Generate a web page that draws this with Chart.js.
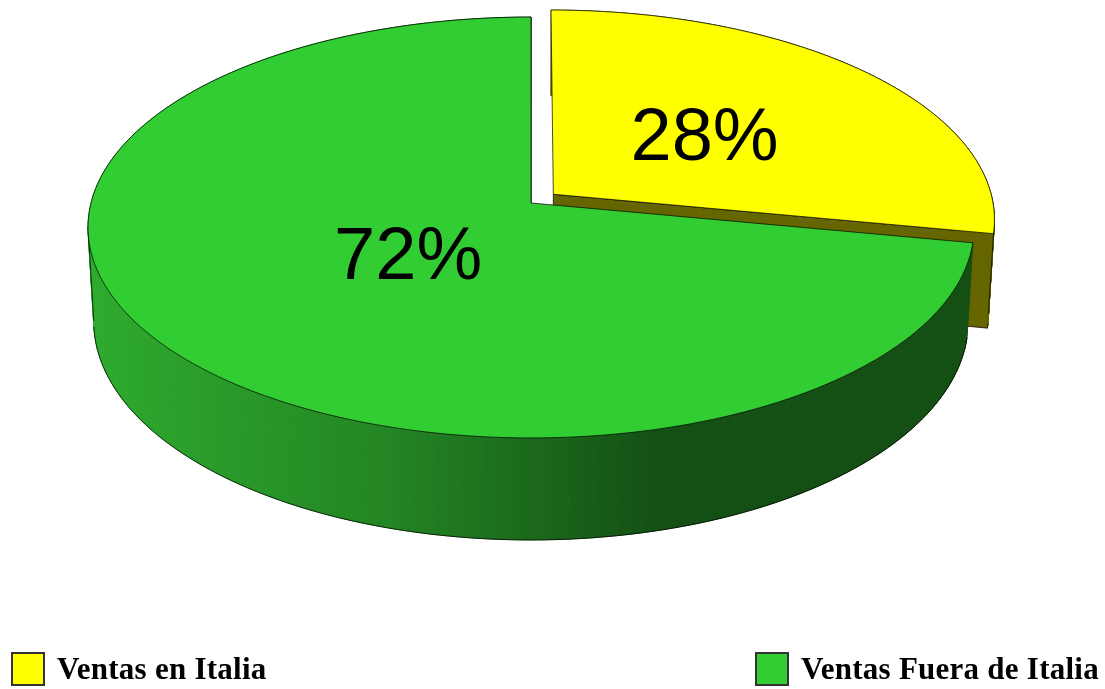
<!DOCTYPE html>
<html>
<head>
<meta charset="utf-8">
<title>Ventas</title>
<script src="https://cdn.jsdelivr.net/npm/chart.js@4"></script>
<style>
  body { margin: 0; background: #fff; width: 1105px; height: 689px; overflow: hidden; position: relative; }
  canvas { position: absolute; left: 0; top: 0; }
  .key { position: absolute; top: 652px; height: 34px; display: flex; align-items: center; white-space: nowrap;
         font: bold 31px "Liberation Serif", serif; letter-spacing: 0.25px; color: #000; }
  .key i { display: block; width: 30px; height: 30px; border: 2px solid #333; margin-right: 12px; }
</style>
</head>
<body>
<canvas id="pie" width="1105" height="689"></canvas>
<script>
const categories = ["Ventas en Italia", "Ventas Fuera de Italia"];
const shares = [28, 72];
const topColors = ["#ffff00", "#32cd32"];
const wallColors = ["#666600", "#144f14"];
const legendLeft = [11, 755];
const labelRadius = [0.45, 0.35];
const labelNudge = [[5, 2], [-1, 8]];

// perspective of the disc, all from the pie's unit circle
const spanX = 440, spanY = 207.6, depth = 94.5, tilt = 0.1164, shrink = 0.013;

function project(arc, u, v, z) {
  const d = 1 - tilt * v + shrink * z;
  return [arc.x + spanX * u / d, arc.y + (spanY * v + depth * z) / d];
}

function slicePoints(arc, from, to, z, dx, dy) {
  const pts = [];
  const steps = 180;
  for (let i = 0; i <= steps; i++) {
    const a = from + (to - from) * i / steps;
    pts.push(project(arc, Math.cos(a) + dx, Math.sin(a) + dy, z));
  }
  return pts;
}

function tracePoly(ctx, pts) {
  ctx.beginPath();
  pts.forEach((p, i) => (i ? ctx.lineTo(p[0], p[1]) : ctx.moveTo(p[0], p[1])));
}

function fillPoly(ctx, pts, fill, line) {
  tracePoly(ctx, pts);
  ctx.closePath();
  ctx.fillStyle = fill;
  ctx.fill();
  ctx.lineWidth = 1;
  ctx.strokeStyle = line;
  ctx.stroke();
}

function extremeIndex(pts, pick) {
  const xs = pts.map(p => p[0]);
  return xs.indexOf(pick(...xs));
}

// side of the slice, a strip at a time because the two rims cross at the silhouette
function drawWall(ctx, arc, top, low, fill, line) {
  ctx.fillStyle = fill;
  ctx.strokeStyle = fill;
  ctx.lineWidth = 1;
  for (let i = 0; i < top.length - 1; i++) {
    tracePoly(ctx, [top[i], top[i + 1], low[i + 1], low[i]]);
    ctx.closePath();
    ctx.fill();
    ctx.stroke();
  }
  // outline only where the rim faces the viewer
  const rimY = project(arc, 0, tilt, 1)[1];
  ctx.strokeStyle = line;
  tracePoly(ctx, low.filter(p => p[1] >= rimY));
  ctx.stroke();
  [Math.min, Math.max].forEach(pick => {
    const i = extremeIndex(top, pick);
    if (i > 0 && i < top.length - 1) {
      tracePoly(ctx, [top[i], low[extremeIndex(low, pick)]]);
      ctx.stroke();
    }
  });
}

// the arc keeps its angles and offset from the library, only the drawing goes through project()
Chart.ArcElement.prototype.draw = function (ctx) {
  const index = this.$context.index;
  const mid = (this.startAngle + this.endAngle) / 2;
  const off = (this.options.offset || 0) / this.outerRadius;
  const dx = Math.cos(mid) * off, dy = Math.sin(mid) * off;
  const apex = project(this, dx, dy, 0), apexLow = project(this, dx, dy, 1);
  const top = slicePoints(this, this.startAngle, this.endAngle, 0, dx, dy);
  const low = slicePoints(this, this.startAngle, this.endAngle, 1, dx, dy);
  const line = "rgba(0,0,0,0.7)";

  // only the big slice has the shaded wall
  let wall = wallColors[index];
  if (index === 1) {
    wall = ctx.createLinearGradient(90, 0, 970, 0);
    wall.addColorStop(0, "#2eab2e");
    wall.addColorStop(0.34, "#238523");
    wall.addColorStop(0.65, wallColors[index]);
    wall.addColorStop(1, wallColors[index]);
  }
  ctx.save();
  fillPoly(ctx, [apex, top[top.length - 1], low[low.length - 1], apexLow], wallColors[index], line);
  drawWall(ctx, this, top, low, wall, line);
  fillPoly(ctx, [apex].concat(top), this.options.backgroundColor, line);
  ctx.restore();
};

const percentLabels = {
  id: "percentLabels",
  afterDatasetsDraw(chart) {
    const ctx = chart.ctx;
    const total = shares.reduce((a, b) => a + b, 0);
    ctx.save();
    ctx.font = '74px "Liberation Sans", Arial, sans-serif';
    ctx.fillStyle = "#000";
    ctx.textAlign = "center";
    ctx.textBaseline = "middle";
    chart.getDatasetMeta(0).data.forEach((arc, i) => {
      const mid = (arc.startAngle + arc.endAngle) / 2;
      const off = (arc.options.offset || 0) / arc.outerRadius + labelRadius[i];
      const p = project(arc, Math.cos(mid) * off, Math.sin(mid) * off, 0);
      ctx.fillText(Math.round(shares[i] / total * 100) + "%", p[0] + labelNudge[i][0], p[1] + labelNudge[i][1]);
    });
    ctx.restore();
  }
};

new Chart(document.getElementById("pie"), {
  type: "pie",
  data: {
    labels: categories,
    datasets: [{
      data: shares,
      backgroundColor: topColors,
      offset: [13, 0],
      borderWidth: 0
    }]
  },
  options: {
    responsive: false,
    animation: false,
    layout: { padding: { right: 43, bottom: 283 } },
    plugins: { legend: { display: false }, tooltip: { enabled: false } }
  },
  plugins: [percentLabels]
});

categories.forEach((name, i) => {
  const key = document.createElement("div");
  key.className = "key";
  key.style.left = legendLeft[i] + "px";
  const box = document.createElement("i");
  box.style.background = topColors[i];
  key.appendChild(box);
  key.appendChild(document.createTextNode(name));
  document.body.appendChild(key);
});
</script>
</body>
</html>
